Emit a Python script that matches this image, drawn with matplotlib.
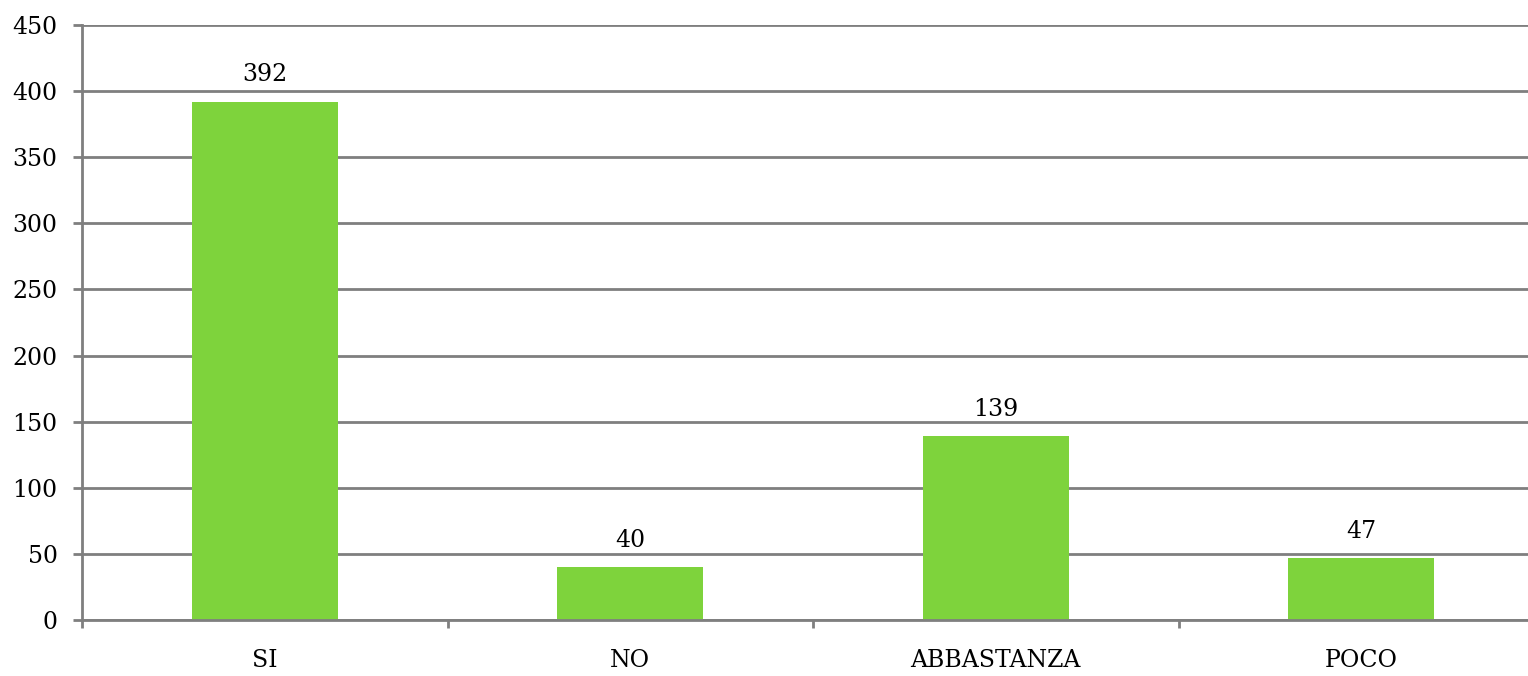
import matplotlib.pyplot as plt
import numpy as np

categories = ['SI', 'NO', 'ABBASTANZA', 'POCO']
values = [392, 40, 139, 47]

plt.rcParams['font.family'] = ['DejaVu Serif']
grey = '#7f7f7f'

fig = plt.figure(figsize=(15.28, 6.76), dpi=100)
# axes runs slightly past the right edge, as in the original
ax = fig.add_axes([82 / 1528, 1 - 620 / 676, 1462 / 1528, 595 / 676])

x = np.arange(len(categories))
bars = ax.bar(x, values, width=0.4, color='#7ED33C', zorder=3)
for b, v in zip(bars, values):
    ax.annotate(str(v), (b.get_x() + b.get_width() / 2, v), xytext=(0, 11),
                textcoords='offset points', ha='center', va='bottom', fontsize=17)

ax.set_xlim(-0.5, 3.5)
ax.set_ylim(0, 450)
ax.set_yticks(range(0, 451, 50))
ax.yaxis.grid(True, color=grey, linewidth=2, zorder=0)

ax.set_xticks(x)
ax.set_xticklabels(categories, fontsize=17)
ax.set_xticks(np.arange(-0.5, 4, 1), minor=True)
ax.tick_params(axis='x', which='major', length=0, pad=21)
ax.tick_params(axis='x', which='minor', length=6, width=2, color=grey)
ax.tick_params(axis='y', length=6.5, width=2, color=grey, labelsize=17, pad=11)

for s in ['top', 'right']:
    ax.spines[s].set_visible(False)
for s in ['left', 'bottom']:
    ax.spines[s].set_color(grey)
    ax.spines[s].set_linewidth(2)
    ax.spines[s].set_zorder(4)

fig.savefig('out.png', dpi=100)
